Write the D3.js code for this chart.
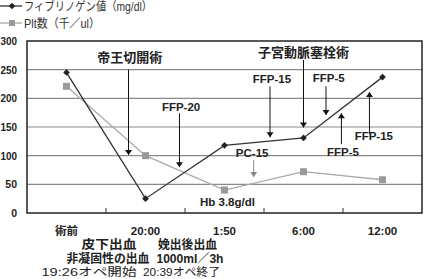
<!DOCTYPE html>
<html>
<head>
<meta charset="utf-8">
<script src="https://cdn.jsdelivr.net/npm/d3@7"></script>
<style>
  body { margin: 0; background: #fff; }
  text { font-family: "Liberation Sans", "Noto Sans CJK JP", sans-serif; }
</style>
</head>
<body>
<div id="vis-container"></div>
<script>
// data
var categories = ["術前", "20:00", "1:50", "6:00", "12:00"]
var fibrinogen = [245, 25, 118, 131, 237]
var platelets = [221, 100, 40, 72, 58]
var yTicks = [0, 50, 100, 150, 200, 250, 300]

// arrows: f = position in category units, y values in chart units
var arrows = [
  {label: "帝王切開術", labelF: 0.80, labelY: 263, f: 0.785, from: 250, to: 101, dir: "down", size: 13, color: "#111"},
  {label: "FFP-20", labelF: 1.45, labelY: 178, f: 1.43, from: 174, to: 80, dir: "down", size: 11.5, color: "#111"},
  {label: "FFP-15", labelF: 2.60, labelY: 227, f: 2.576, from: 221, to: 132, dir: "down", size: 11.5, color: "#111"},
  {label: "子宮動脈塞栓術", labelF: 3.0, labelY: 272, f: 3.0, from: 267, to: 149, dir: "down", size: 13, color: "#111"},
  {label: "FFP-5", labelF: 3.32, labelY: 228, f: 3.285, from: 221, to: 171, dir: "down", size: 11.5, color: "#111"},
  {label: "FFP-5", labelF: 3.50, labelY: 99, f: 3.48, from: 120, to: 174, dir: "up", size: 11.5, color: "#111"},
  {label: "FFP-15", labelF: 3.89, labelY: 127, f: 3.835, from: 138, to: 211, dir: "up", size: 11.5, color: "#111"},
  {label: "PC-15", labelF: 2.35, labelY: 97, f: 2.37, from: 92, to: 63, dir: "down", size: 11.5, color: "#888"}
]
var hbNote = {label: "Hb 3.8g/dl", f: 1.69, y: 12}

var notes = [
  {text: "皮下出血", f: 0.538, row: 1, width: 55, bold: true},
  {text: "娩出後出血", f: 1.532, row: 1, width: 59, bold: true},
  {text: "非凝固性の出血", f: 0.525, row: 2, width: 83, bold: true},
  {text: "1000ml／3h", f: 1.563, row: 2, width: 67, bold: true},
  {text: "19:26オペ開始", f: 0.285, row: 3, width: 95, bold: false},
  {text: "20:39オペ終了", f: 1.456, row: 3, width: 77, bold: false}
]
var rowY = [235, 249, 263, 276]

var chart = {
  width: 424, height: 279,
  left: 27, right: 422, top: 41, bottom: 213
}

var svg = d3.select("#vis-container").append("svg")
  .attr("width", chart.width).attr("height", chart.height)

var x = d3.scaleBand().domain(categories).range([chart.left, chart.right]).padding(0)
var xf = d3.scaleLinear().domain([-0.5, categories.length - 0.5]).range([chart.left, chart.right])
var y = d3.scaleLinear().domain([0, 300]).range([chart.bottom, chart.top])
var cx = function(i){ return x(categories[i]) + x.bandwidth() / 2 }

// gridlines
svg.append("g").selectAll("line").data(yTicks.filter(d => d > 0 && d < 300)).enter()
  .append("line")
  .attr("x1", chart.left).attr("x2", chart.right)
  .attr("y1", d => y(d)).attr("y2", d => y(d))
  .attr("stroke", "#8a8a8a").attr("stroke-width", 1.2)

// y axis labels
svg.append("g").selectAll("text").data(yTicks).enter()
  .append("text")
  .attr("x", 17).attr("y", d => y(d) + 4)
  .attr("text-anchor", "end")
  .attr("font-size", 10.5).attr("font-weight", "bold").attr("fill", "#222")
  .attr("textLength", d => d >= 100 ? 16.5 : null).attr("lengthAdjust", "spacingAndGlyphs")
  .text(d => d)

// plot frame
svg.append("rect")
  .attr("x", chart.left).attr("y", chart.top)
  .attr("width", chart.right - chart.left).attr("height", chart.bottom - chart.top)
  .attr("fill", "none").attr("stroke", "#222").attr("stroke-width", 1.5)

// inner ticks between categories
svg.append("g").selectAll("line").data(categories.slice(1)).enter()
  .append("line")
  .attr("x1", d => x(d)).attr("x2", d => x(d))
  .attr("y1", chart.bottom).attr("y2", chart.bottom - 5)
  .attr("stroke", "#333").attr("stroke-width", 1)

// category labels
svg.append("g").selectAll("text").data(categories).enter()
  .append("text")
  .attr("x", (d, i) => cx(i)).attr("y", rowY[0])
  .attr("text-anchor", "middle")
  .attr("font-size", 11.5).attr("font-weight", "bold").attr("fill", "#222")
  .text(d => d)

// notes under axis
svg.append("g").selectAll("text").data(notes).enter()
  .append("text")
  .attr("x", d => xf(d.f)).attr("y", d => rowY[d.row])
  .attr("text-anchor", "middle")
  .attr("font-size", d => d.row == 3 ? 11.5 : 12).attr("font-weight", d => d.bold ? "bold" : "normal").attr("fill", "#222")
  .attr("textLength", d => d.width).attr("lengthAdjust", "spacingAndGlyphs")
  .text(d => d.text)

// series lines
var line = d3.line().x((d, i) => cx(i)).y(d => y(d))

svg.append("path").datum(platelets)
  .attr("d", line).attr("fill", "none")
  .attr("stroke", "#aaa").attr("stroke-width", 1.3)

svg.append("g").selectAll("rect").data(platelets).enter()
  .append("rect")
  .attr("x", (d, i) => cx(i) - 3.5).attr("y", d => y(d) - 3.5)
  .attr("width", 7).attr("height", 7)
  .attr("fill", "#9a9a9a")

svg.append("path").datum(fibrinogen)
  .attr("d", line).attr("fill", "none")
  .attr("stroke", "#333").attr("stroke-width", 1.3)

var diamond = d3.symbol().type(d3.symbolSquare).size(22)
svg.append("g").selectAll("path").data(fibrinogen).enter()
  .append("path")
  .attr("d", diamond)
  .attr("transform", (d, i) => "translate(" + cx(i) + "," + y(d) + ") rotate(45)")
  .attr("fill", "#222")

// annotation arrows
arrows.forEach(function(a){
  var ax = xf(a.f)
  svg.append("line")
    .attr("x1", ax).attr("x2", ax)
    .attr("y1", y(a.from)).attr("y2", y(a.to))
    .attr("stroke", a.color).attr("stroke-width", 1)
  var tip = y(a.to)
  var head = a.dir == "down"
    ? [[ax - 3.5, tip - 5], [ax + 3.5, tip - 5], [ax, tip]]
    : [[ax - 3.5, tip + 5], [ax + 3.5, tip + 5], [ax, tip]]
  svg.append("path")
    .attr("d", "M" + head.join("L") + "Z")
    .attr("fill", a.color)
  svg.append("text")
    .attr("x", xf(a.labelF)).attr("y", y(a.labelY))
    .attr("text-anchor", "middle")
    .attr("font-size", a.size).attr("font-weight", "bold").attr("fill", "#222")
    .text(a.label)
})

svg.append("text")
  .attr("x", xf(hbNote.f)).attr("y", y(hbNote.y))
  .attr("font-size", 11.5).attr("font-weight", "bold").attr("fill", "#222")
  .text(hbNote.label)

// legend
var legend = [
  {name: "フィブリノゲン値（mg/dl）", color: "#333", marker: "diamond", width: 128},
  {name: "Plt数（千／ul）", color: "#aaa", marker: "square", width: 76}
]
legend.forEach(function(l, i){
  var ly = 6 + i * 17
  svg.append("line").attr("x1", 0).attr("x2", 22).attr("y1", ly).attr("y2", ly)
    .attr("stroke", l.color).attr("stroke-width", 1.3)
  if(l.marker == "diamond"){
    svg.append("path").attr("d", diamond).attr("transform", "translate(12," + ly + ") rotate(45)").attr("fill", "#222")
  } else {
    svg.append("rect").attr("x", 9).attr("y", ly - 3).attr("width", 6).attr("height", 6).attr("fill", "#9a9a9a")
  }
  svg.append("text")
    .attr("x", 24).attr("y", ly + 4.5)
    .attr("font-size", 12).attr("fill", "#333")
    .attr("textLength", l.width).attr("lengthAdjust", "spacingAndGlyphs")
    .text(l.name)
})
</script>
</body>
</html>
